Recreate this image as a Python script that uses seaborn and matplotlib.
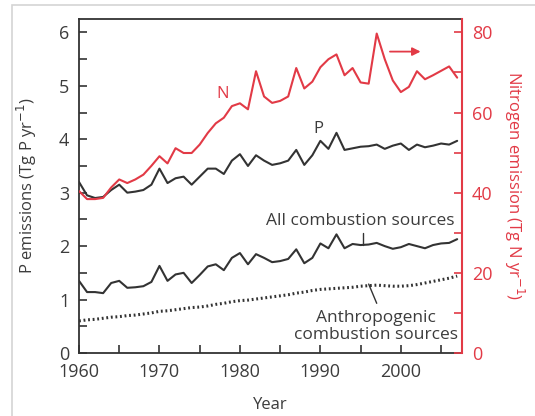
import matplotlib
matplotlib.use("Agg")
import matplotlib.pyplot as plt
import seaborn as sns
import pandas as pd
from matplotlib.ticker import MultipleLocator
from matplotlib.patches import Rectangle

years = list(range(1960, 2008))

p_emissions = [3.20, 2.95, 2.90, 2.92, 3.05, 3.15, 3.00, 3.02, 3.05, 3.15,
               3.45, 3.18, 3.27, 3.30, 3.15, 3.30, 3.45, 3.45, 3.35, 3.60,
               3.72, 3.50, 3.70, 3.60, 3.52, 3.55, 3.60, 3.80, 3.52, 3.70,
               3.97, 3.82, 4.12, 3.80, 3.83, 3.86, 3.87, 3.90, 3.82, 3.88,
               3.92, 3.80, 3.90, 3.85, 3.88, 3.92, 3.90, 3.97]

n_emissions = [40.4, 38.4, 38.4, 38.7, 41.3, 43.3, 42.4, 43.3, 44.5, 46.7,
               49.1, 47.3, 51.1, 49.9, 49.9, 52.0, 54.9, 57.3, 58.7, 61.6,
               62.3, 60.8, 70.3, 64.0, 62.4, 62.9, 64.0, 71.1, 66.0, 67.7,
               71.3, 73.3, 74.5, 69.3, 71.1, 67.5, 67.2, 79.7, 73.3, 68.0,
               65.1, 66.4, 70.3, 68.3, 69.3, 70.4, 71.5, 68.7]

all_combustion = [1.35, 1.14, 1.14, 1.12, 1.31, 1.35, 1.22, 1.23, 1.25, 1.33,
                  1.63, 1.35, 1.47, 1.50, 1.31, 1.46, 1.62, 1.66, 1.55, 1.78,
                  1.87, 1.66, 1.85, 1.78, 1.70, 1.72, 1.76, 1.94, 1.68, 1.78,
                  2.05, 1.96, 2.22, 1.96, 2.04, 2.02, 2.03, 2.06, 2.00, 1.95,
                  1.98, 2.04, 2.00, 1.96, 2.02, 2.05, 2.06, 2.13]

anthro_combustion = [0.60, 0.62, 0.63, 0.65, 0.67, 0.68, 0.70, 0.71, 0.73, 0.75,
                     0.78, 0.79, 0.81, 0.83, 0.85, 0.86, 0.88, 0.91, 0.93, 0.96,
                     0.98, 0.99, 1.01, 1.03, 1.05, 1.07, 1.09, 1.12, 1.14, 1.17,
                     1.19, 1.20, 1.21, 1.22, 1.23, 1.25, 1.26, 1.27, 1.26, 1.25,
                     1.25, 1.26, 1.28, 1.31, 1.34, 1.37, 1.40, 1.44]

left_ticks = [0, 1, 2, 3, 4, 5, 6]
right_ticks = [0, 20, 40, 60, 80]
x_ticks = [1960, 1970, 1980, 1990, 2000]

df = pd.DataFrame({"Year": years, "P": p_emissions, "N": n_emissions,
                   "All": all_combustion, "Anthro": anthro_combustion})

sns.set_style("ticks")
plt.rcParams["font.family"] = ["Open Sans", "DejaVu Sans"]

RED = "#e23a46"
DARK = "#333333"
TXT = "#3c3c3c"

fig = plt.figure(figsize=(5.35, 4.16), dpi=100)
fig.patches.append(Rectangle((12 / 535, -0.01), 1.2, 1 - 5 / 416 + 0.01,
                             transform=fig.transFigure, fill=False,
                             edgecolor="#d4d4d4", linewidth=1.2))
ax = fig.add_axes([79 / 535, 1 - 353 / 416, (462 - 79) / 535, (353 - 19) / 416])
ax2 = ax.twinx()

sns.lineplot(data=df, x="Year", y="P", ax=ax, color=DARK, linewidth=1.5)
sns.lineplot(data=df, x="Year", y="All", ax=ax, color=DARK, linewidth=1.5)
sns.lineplot(data=df, x="Year", y="Anthro", ax=ax, color=DARK, linewidth=2.2,
             linestyle=(0, (0.6, 0.9)))
sns.lineplot(data=df, x="Year", y="N", ax=ax2, color=RED, linewidth=1.5)

ax.set_xlim(1960, 2007.6)
ax.set_ylim(0, 6.25)
ax2.set_ylim(0, 6.25 * 80 / 6)

ax.set_xticks(x_ticks)
ax.xaxis.set_minor_locator(MultipleLocator(5))
ax.set_yticks(left_ticks)
ax.yaxis.set_minor_locator(MultipleLocator(0.5))
ax2.set_yticks(right_ticks)
ax2.yaxis.set_minor_locator(MultipleLocator(10))

ax.tick_params(axis="both", which="both", direction="in", length=6, width=1.2,
               color=DARK, labelsize=13, labelcolor=TXT)
ax.tick_params(axis="x", which="major", pad=7)
ax.tick_params(axis="y", which="major", pad=7)
ax2.tick_params(axis="y", which="both", direction="in", length=6, width=1.2,
                color=RED, labelsize=13, labelcolor=RED, pad=7)

for s in ["left", "bottom", "top"]:
    ax.spines[s].set_color(DARK)
    ax.spines[s].set_linewidth(1.3)
    ax2.spines[s].set_visible(False)
ax.spines["right"].set_visible(False)
ax2.spines["right"].set_color(RED)
ax2.spines["right"].set_linewidth(1.5)
ax.spines["top"].set_visible(True)

ax.set_xlabel("Year", fontsize=12, color=TXT, labelpad=12)
ax.set_ylabel("P emissions (Tg P yr$^{-1}$)", fontsize=12, color=TXT, labelpad=14)
ax2.set_ylabel("Nitrogen emission (Tg N yr$^{-1}$)", fontsize=12, color=RED,
               rotation=270, labelpad=24)

# annotations
ax.text(1977.8, 4.84, "N", color=RED, fontsize=12, ha="center", va="center")
ax.text(1989.8, 4.2, "P", color=TXT, fontsize=12, ha="center", va="center")
ax.annotate("", xy=(2002.8, 5.64), xytext=(1998.3, 5.64),
            arrowprops=dict(arrowstyle="-|>", color=RED, lw=1.3,
                            mutation_scale=12))
ax.text(1994.9, 2.47, "All combustion sources", color=TXT, fontsize=12.5,
        ha="center", va="center")
ax.plot([1995.3, 1995.3], [2.25, 2.02], color=DARK, lw=1.0)
ax.text(1996.9, 0.5, "Anthropogenic\ncombustion sources", color=TXT,
        fontsize=12.5, ha="center", va="center", linespacing=1.05)
ax.plot([1996.0, 1997.0], [1.29, 0.93], color=DARK, lw=1.0)

fig.savefig("out.png", dpi=100)
